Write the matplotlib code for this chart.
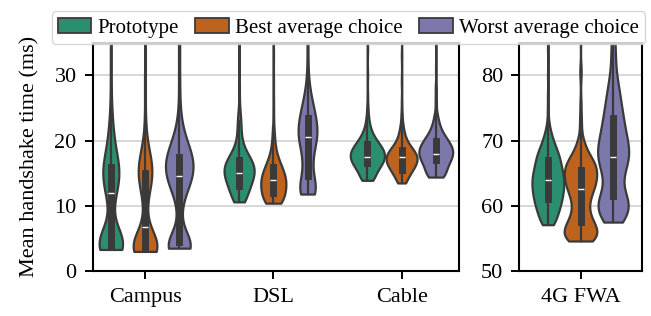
import numpy as np
import pandas as pd
import matplotlib
matplotlib.use("Agg")
import matplotlib.pyplot as plt
import seaborn as sns
from matplotlib.patches import Patch

plt.rcParams['font.family'] = ['Liberation Serif', 'DejaVu Serif']
plt.rcParams['font.size'] = 16

networks = ["Campus", "DSL", "Cable"]
networks_mobile = ["4G FWA"]
choices = ["Prototype", "Best average choice", "Worst average choice"]

# (handshake time in ms, number of samples)
campus_proto = [(3.3, 21), (3.8, 14), (4.4, 9), (5, 8), (5.6, 5), (6.3, 3), (7, 2), (8, 1), (9, 1), (10, 1),
                (11, 3), (12, 5), (13, 7), (14, 8), (15, 9), (16, 8), (17, 7), (18, 5), (19, 3), (20, 3),
                (21, 2), (22, 2), (23, 2), (24, 1), (26, 1), (28, 1), (31, 1), (34, 1), (37, 1), (40, 1), (42, 1)]
campus_best = [(3.0, 24), (3.5, 17), (4.1, 11), (4.7, 8), (5.3, 5), (6.0, 4), (6.8, 2), (7.6, 2),
               (8.5, 1), (9.5, 1), (10.5, 1),
               (11, 2), (12, 4), (13, 6), (14, 8), (15, 9), (16, 9), (17, 7), (18, 5), (19, 3), (20, 2),
               (21, 1), (22, 1), (24, 1), (27, 1), (30, 1), (34, 1), (38, 1), (42, 1)]
campus_worst = [(3.5, 24), (3.9, 12), (4.4, 5), (5, 3), (5.7, 2), (6.5, 2),
                (7.5, 1), (8.5, 1), (9.5, 2), (10.5, 2),
                (11.5, 4), (12.5, 7), (13.5, 10), (14.5, 12), (15.5, 13), (16.5, 13), (17.5, 12), (18.5, 10),
                (19.5, 7), (20.5, 5), (21.5, 3),
                (22.5, 2), (23.5, 2), (25, 1), (27, 1), (29, 1), (32, 1), (35, 1), (38, 1), (42, 1)]

dsl_proto = [(10.6, 6), (11, 9), (12, 13), (13, 17), (14, 21), (15, 24), (16, 25), (17, 20), (18, 12),
             (19, 7), (20, 4), (21, 3), (22, 3), (23, 3), (24, 2), (25, 1), (27, 1), (29, 1), (32, 1),
             (35, 1), (38, 1), (42, 1)]
dsl_best = [(10.4, 12), (11, 16), (12, 18), (13, 21), (14, 21), (15, 18), (16, 14), (17, 8), (18, 5),
            (19, 3), (20, 2), (21, 2), (22, 1), (24, 1), (26, 1), (29, 1), (33, 1), (38, 1), (42, 1)]
dsl_worst = [(11.8, 11), (12.5, 9), (13.5, 6), (14.5, 4), (15.5, 4), (16.5, 4), (17.5, 4), (18.5, 5),
             (19.5, 7), (20.5, 9), (21.5, 9), (22.5, 8), (23.5, 7), (24.5, 6), (25.5, 5), (26.5, 3),
             (27.5, 2), (28.5, 2), (30, 1), (32, 1), (35, 1), (38, 1), (42, 1)]

cable_proto = [(13.9, 9), (14.5, 12), (15.5, 21), (16.5, 30), (17.5, 36), (18.5, 33), (19.5, 24),
               (20.5, 14), (21.5, 8), (22.5, 4), (23.5, 3), (25, 2), (27, 1), (30, 1), (34, 1), (38, 1)]
cable_best = [(13.5, 9), (14.5, 15), (15.5, 24), (16.5, 33), (17.5, 36), (18.5, 27), (19.5, 15),
              (20.5, 8), (21.5, 5), (22.5, 3), (24, 2), (26, 1), (29, 1), (33, 1), (38, 1)]
cable_worst = [(14.4, 12), (15, 15), (16, 21), (17, 27), (18, 33), (19, 30), (20, 23), (21, 14), (22, 8),
               (23, 5), (24, 3), (26, 2), (28, 2), (31, 1), (35, 1), (38, 1)]

fwa_proto = [(57.1, 7), (58, 9), (59, 12), (60, 14), (61, 16), (62, 17), (63, 18), (64, 18), (65, 17),
             (66, 15), (67, 14), (68, 12), (69, 9), (70, 6), (71, 4), (72, 2), (73, 1), (75, 1),
             (77, 1), (80, 1), (84, 1), (88, 1)]
fwa_best = [(54.6, 15), (55.5, 17), (56.5, 17), (57.5, 13), (58.5, 9), (59.5, 8), (60.5, 8), (61.5, 10),
            (62.5, 13), (63.5, 15), (64.5, 16), (65.5, 16), (66.5, 15), (67.5, 10), (68.5, 6), (69.5, 4),
            (70.5, 2), (72, 1), (73, 1), (74, 1), (76, 1), (80, 1), (81, 1), (86, 1)]
fwa_worst = [(57.5, 8), (58.5, 10), (59.5, 12), (60.5, 12), (61.5, 9), (62.5, 6), (63.5, 5), (64.5, 6),
             (65.5, 8), (66.5, 10), (67.5, 11), (68.5, 11), (69.5, 10), (70.5, 9), (71.5, 8), (72.5, 7),
             (73.5, 7), (74.5, 6), (75.5, 5), (76.5, 5), (77.5, 4), (78.5, 4), (80, 4), (82, 3), (84, 3),
             (86, 2), (88, 2), (91, 2), (95, 1), (100, 1)]


def expand(pairs):
    return np.repeat([p[0] for p in pairs], [p[1] for p in pairs])


def build_frame(nets, groups):
    rows = []
    for net, grp in zip(nets, groups):
        for choice, pairs in zip(choices, grp):
            for v in expand(pairs):
                rows.append((net, choice, v))
    return pd.DataFrame(rows, columns=["network", "choice", "time"])


df_fixed = build_frame(networks, [[campus_proto, campus_best, campus_worst],
                                  [dsl_proto, dsl_best, dsl_worst],
                                  [cable_proto, cable_best, cable_worst]])
df_mobile = build_frame(networks_mobile, [[fwa_proto, fwa_best, fwa_worst]])

colors = sns.color_palette("Dark2", 3, desat=0.75)
edge = "#3a3a3a"

fig = plt.figure(figsize=(6.51, 3.16), dpi=100)
ax1 = fig.add_axes([92.7 / 651, 45 / 316, 366.6 / 651, 228.3 / 316])
ax2 = fig.add_axes([519.3 / 651, 45 / 316, 122.4 / 651, 228.3 / 316])

for ax, df, nets, bw in [(ax1, df_fixed, networks, 0.75), (ax2, df_mobile, networks_mobile, 0.6)]:
    ax.set_axisbelow(True)
    ax.grid(axis="y", color="#d6d6d6", linewidth=1.3)
    sns.violinplot(data=df, x="network", y="time", hue="choice", order=nets, hue_order=choices,
                   palette=colors, saturation=1, cut=0, inner="box", linewidth=1.6,
                   linecolor=edge, legend=False, ax=ax, bw_adjust=bw,
                   density_norm="count", common_norm=True,
                   inner_kws=dict(box_width=5, whis_width=1.6, color=edge))
    ax.set_xlabel("")
    ax.set_ylabel("")
    for s in ax.spines.values():
        s.set_color("black")
        s.set_linewidth(1.5)
    ax.tick_params(direction="out", length=5.5, width=1.4, colors="black", labelsize=16)
    ax.tick_params(axis="y", pad=6)
    ax.tick_params(axis="x", pad=7)

ax1.set_xlim(-0.408, 2.45)
ax1.set_ylim(0, 35)
ax1.set_yticks([0, 10, 20, 30])
ax2.set_xlim(-0.5, 0.5)
ax2.set_ylim(50, 85)
ax2.set_yticks([50, 60, 70, 80])
ax1.set_ylabel("Mean handshake time (ms)", fontsize=16, labelpad=11)

handles = [Patch(facecolor=c, edgecolor=edge, linewidth=1.3) for c in colors]
fig.legend(handles, choices, loc="upper center", bbox_to_anchor=(0.535, 0.997), ncol=3,
           fontsize=15, frameon=True, edgecolor="#cccccc", fancybox=True,
           handlelength=1.6, handleheight=0.75, columnspacing=0.8, handletextpad=0.3,
           borderpad=0.3)

fig.savefig("out.png", dpi=100)
